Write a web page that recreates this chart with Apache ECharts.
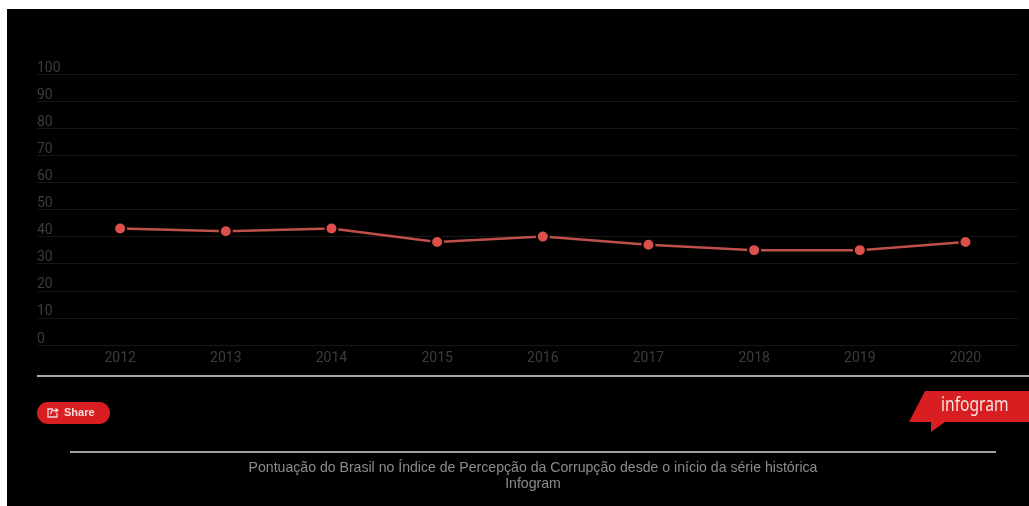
<!DOCTYPE html>
<html lang="pt-BR">
<head>
<meta charset="utf-8">
<title>Pontuação do Brasil no Índice de Percepção da Corrupção</title>
<script src="https://cdn.jsdelivr.net/npm/echarts@6/dist/echarts.min.js"></script>
<style>
  html, body { margin: 0; padding: 0; background: #fff; overflow: hidden; }
  #chart { width: 1029px; height: 506px; }
</style>
</head>
<body>
<div id="chart"></div>
<script>
// Brazil's score on the Corruption Perceptions Index, by year
const years = ['2012', '2013', '2014', '2015', '2016', '2017', '2018', '2019', '2020'];
const scores = [43, 42, 43, 38, 40, 37, 35, 35, 38];
const captionLines = [
  'Pontuação do Brasil no Índice de Percepção da Corrupção desde o início da série histórica',
  'Infogram'
];

const tickColor = '#3c3c3c';
const tickFont = { fontFamily: 'Roboto', fontSize: 14, color: tickColor };
const brandRed = '#d81e20';
const captionFont = '14.1px "Liberation Sans"';

const chart = echarts.init(document.getElementById('chart'), null, { renderer: 'canvas' });

chart.setOption({
  animation: false,
  backgroundColor: '#fff',
  // Grid 0 carries the wide gridlines and score labels; grid 1 carries the line and years
  grid: [
    { left: 37, width: 981, top: 74, height: 271 },
    { left: 67.3, width: 951, top: 74, height: 271 }
  ],
  xAxis: [
    { gridIndex: 0, type: 'category', data: years, show: false },
    {
      gridIndex: 1, type: 'category', data: years, boundaryGap: true,
      axisLine: { show: false }, axisTick: { show: false }, splitLine: { show: false },
      axisLabel: { ...tickFont, margin: 6, interval: 0 }
    }
  ],
  yAxis: [
    {
      gridIndex: 0, type: 'value', min: 0, max: 100, interval: 10,
      axisLine: { show: false }, axisTick: { show: false },
      splitLine: { show: true, lineStyle: { color: '#171717', width: 1 } },
      axisLabel: { ...tickFont, inside: true, margin: 0, align: 'left', verticalAlign: 'bottom', lineHeight: 12 }
    },
    { gridIndex: 1, type: 'value', min: 0, max: 100, interval: 10, show: false }
  ],
  series: [{
    type: 'line',
    xAxisIndex: 1,
    yAxisIndex: 1,
    data: scores,
    symbol: 'circle',
    symbolSize: 12,
    showAllSymbol: true,
    lineStyle: { color: '#bf4f4a', width: 2.5 },
    itemStyle: { color: '#dc4f4a', borderColor: '#000', borderWidth: 2, opacity: 1 },
    z: 5
  }],
  graphic: [
    // page panel
    { type: 'rect', silent: true, z: -10, shape: { x: 7, y: 9, width: 1022, height: 497 }, style: { fill: '#000' } },
    // rules above the footer and above the caption
    { type: 'rect', silent: true, shape: { x: 37, y: 375, width: 992, height: 2 }, style: { fill: '#a8a8a8' } },
    { type: 'rect', silent: true, shape: { x: 70, y: 451, width: 926, height: 2 }, style: { fill: '#a0a0a0' } },
    // share button
    { type: 'rect', silent: true, shape: { x: 37, y: 402, width: 73, height: 22, r: 11 }, style: { fill: brandRed } },
    { type: 'polyline', silent: true, shape: { points: [[53, 409], [48, 409], [48, 417], [57, 417], [57, 413]] }, style: { stroke: '#f3d4d4', lineWidth: 1.3, fill: null } },
    { type: 'polyline', silent: true, shape: { points: [[50.5, 414], [52, 410.5], [57, 410.5]] }, style: { stroke: '#f3d4d4', lineWidth: 1.3, fill: null } },
    { type: 'polygon', silent: true, shape: { points: [[55.5, 407.5], [59, 410.5], [55.5, 413]] }, style: { fill: '#f3d4d4' } },
    { type: 'text', silent: true, style: { x: 64, y: 412.5, text: 'Share', font: 'bold 11px "Liberation Sans"', fill: '#f6dede', textVerticalAlign: 'middle' } },
    // infogram flag
    { type: 'polygon', silent: true, shape: { points: [[909, 422], [925, 391], [1029, 391], [1029, 422], [945, 422], [931, 432], [931, 422]] }, style: { fill: brandRed } },
    { type: 'text', silent: true, x: 941, y: 406, scaleX: 0.82, style: { x: 0, y: 0, text: 'infogram', font: '19px "Noto Sans"', fill: '#f4e4e4', textVerticalAlign: 'middle' } },
    // caption
    { type: 'text', silent: true, style: { x: 533, y: 468.5, text: captionLines[0], font: captionFont, fill: '#8c8c8c', textAlign: 'center', textVerticalAlign: 'middle' } },
    { type: 'text', silent: true, style: { x: 533, y: 484, text: captionLines[1], font: captionFont, fill: '#8c8c8c', textAlign: 'center', textVerticalAlign: 'middle' } }
  ]
});
</script>
</body>
</html>
